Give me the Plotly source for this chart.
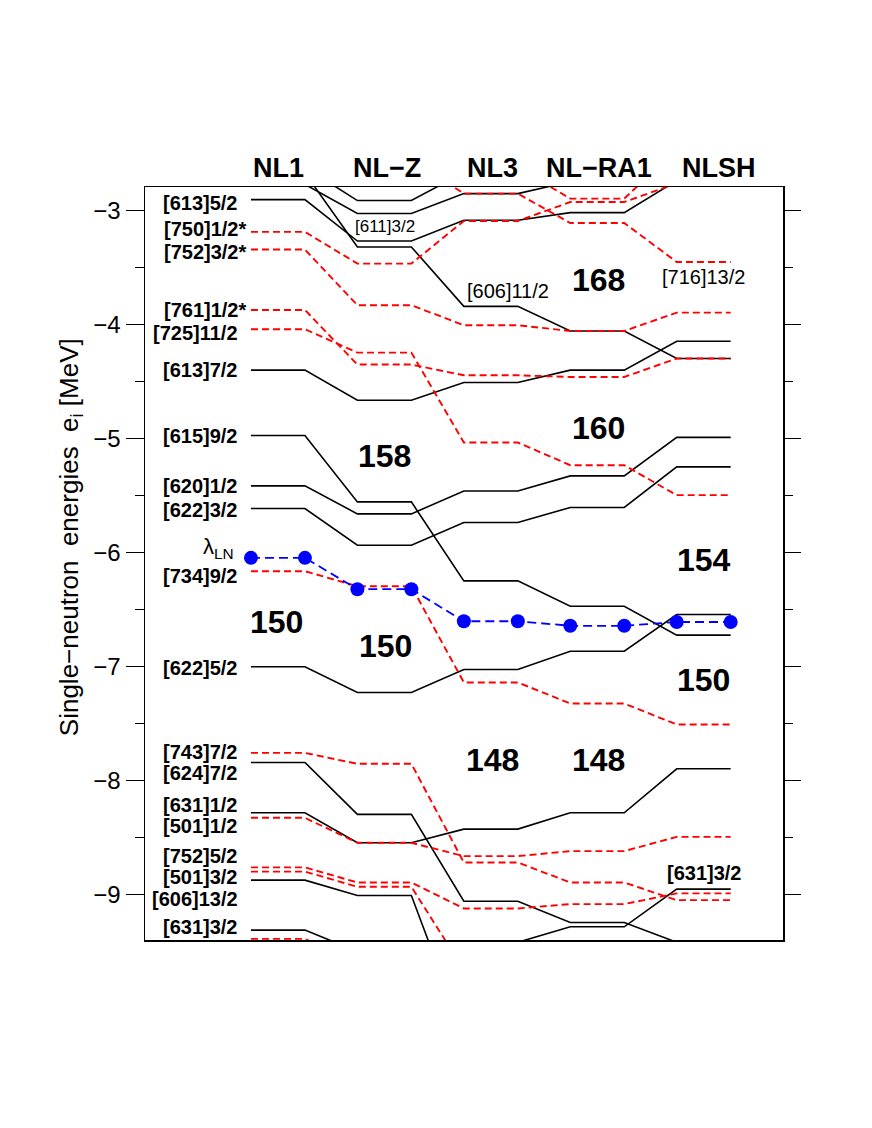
import plotly.graph_objects as go

# ---------------- data ----------------
models = ["NL1", "NL\u2212Z", "NL3", "NL\u2212RA1", "NLSH"]

# positive-parity levels (black solid), energies in MeV for NL1, NL-Z, NL3, NL-RA1, NLSH
black_top1 = [-2.62, -2.912, -2.666, -2.50, -2.50]
black_top2 = [-2.77, -3.026, -2.851, -2.746, -2.60]
lvl_613_5 = [-2.904, -3.267, -3.085, -3.018, -2.737]
lvl_606_11 = [-2.671, -3.319, -3.840, -4.056, -4.298]
lvl_613_7 = [-4.400, -4.664, -4.509, -4.400, -4.146]
lvl_615_9 = [-4.974, -5.556, -6.249, -6.471, -6.725]
lvl_620_1 = [-5.415, -5.661, -5.460, -5.328, -4.990]
lvl_622_3 = [-5.614, -5.936, -5.737, -5.605, -5.249]
lvl_622_5 = [-7.003, -7.228, -7.026, -6.866, -6.544]
lvl_624_7 = [-7.842, -8.298, -9.060, -9.246, -9.420]
lvl_631_1 = [-8.284, -8.547, -8.427, -8.284, -7.898]
lvl_606_13 = [-8.875, -9.009, -10.24, -10.50, -10.50]
lvl_631_3 = [-9.313, -9.500, -9.420, -9.284, -8.954]

# negative-parity levels (red dashed)
red_716_13 = [-2.30, -2.55, -2.851, -3.109, -3.451]
red_top3 = [-2.40, -2.50, -2.62, -2.895, -2.46]
red_750_1 = [-3.187, -3.465, -3.091, -2.925, -2.76]
red_752_3 = [-3.342, -3.830, -4.006, -4.056, -3.895]
red_761_1 = [-3.872, -4.351, -4.445, -4.460, -4.298]
red_725_11 = [-4.041, -4.246, -5.035, -5.234, -5.497]
red_734_9 = [-6.164, -6.296, -7.140, -7.325, -7.509]
red_743_7 = [-7.758, -7.854, -8.720, -8.895, -9.050]
red_501_1 = [-8.328, -8.547, -8.664, -8.620, -8.495]
red_752_5 = [-8.763, -8.895, -9.123, -9.085, -8.991]
red_501_3 = [-8.800, -8.933, -9.660, -9.900, -9.900]
red_bottom = [-9.390, -9.600, -9.900, -9.900, -9.900]

# Fermi level lambda_LN
lambda_ln = [-6.047, -6.322, -6.603, -6.643, -6.610]

black_levels = [black_top1, black_top2, lvl_613_5, lvl_606_11, lvl_613_7, lvl_615_9,
                lvl_620_1, lvl_622_3, lvl_622_5, lvl_624_7, lvl_631_1, lvl_606_13, lvl_631_3]
red_levels = [red_716_13, red_top3, red_750_1, red_752_3, red_761_1, red_725_11, red_734_9,
              red_743_7, red_501_1, red_752_5, red_501_3, red_bottom]

# left-hand orbital labels and their vertical positions (MeV)
left_labels = ["[613]5/2", "[750]1/2*", "[752]3/2*", "[761]1/2*", "[725]11/2", "[613]7/2",
               "[615]9/2", "[620]1/2", "[622]3/2", "[734]9/2", "[622]5/2", "[743]7/2",
               "[624]7/2", "[631]1/2", "[501]1/2", "[752]5/2", "[501]3/2", "[606]13/2",
               "[631]3/2"]
left_label_y = [-2.932, -3.158, -3.366, -3.870, -4.074, -4.401, -4.977, -5.418, -5.623,
                -6.205, -7.009, -7.754, -7.933, -8.219, -8.398, -8.661, -8.851, -9.041,
                -9.287]

# shell-gap numbers: text, model position, energy
gap_text = ["158", "150", "150", "168", "160", "154", "150", "148", "148"]
gap_x = [1.005, -0.014, 1.014, 3.014, 3.014, 4.0, 4.0, 2.019, 3.014]
gap_y = [-5.155, -6.611, -6.822, -3.611, -4.910, -6.068, -7.121, -7.822, -7.822]

# other orbital labels in the plot body
inner_text = ["[611]3/2", "[606]11/2", "[716]13/2", "[631]3/2"]
inner_x = [1.005, 2.160, 4.0, 4.011]
inner_y = [-3.138, -3.705, -3.582, -8.816]
inner_size = [17, 20, 20, 20]
inner_bold = [False, False, False, True]

# ---------------- drawing ----------------
HW = 0.2535  # half width of a level segment (model units)
FONT = "Liberation Sans, Arial, Helvetica, sans-serif"


def seg_xy(vals):
    xs, ys = [], []
    for i, v in enumerate(vals):
        xs += [i - HW, i + HW]
        ys += [v, v]
    return xs, ys


fig = go.Figure()
for lv in black_levels:
    xs, ys = seg_xy(lv)
    fig.add_trace(go.Scatter(x=xs, y=ys, mode="lines", line=dict(color="black", width=1.6),
                             showlegend=False, hoverinfo="skip"))
for lv in red_levels:
    xs, ys = seg_xy(lv)
    fig.add_trace(go.Scatter(x=xs, y=ys, mode="lines",
                             line=dict(color="#ff0000", width=1.9, dash="7px,4px"),
                             showlegend=False, hoverinfo="skip"))
xs, ys = seg_xy(lambda_ln)
fig.add_trace(go.Scatter(x=xs, y=ys, mode="lines+markers", yaxis="y2",
                         line=dict(color="#0000ff", width=1.8, dash="9px,5px"),
                         marker=dict(color="#0000ff", size=14),
                         showlegend=False, hoverinfo="skip"))

ann = []
label_x = -HW - 0.1035
for t, y in zip(left_labels, left_label_y):
    x = label_x + (0.078 if t.endswith("*") else 0.0)
    ann.append(dict(x=x, y=y, xref="x", yref="y", text=t, showarrow=False,
                    xanchor="right", yanchor="middle",
                    font=dict(family=FONT, size=20, color="black", weight="bold")))
for t, x, y in zip(gap_text, gap_x, gap_y):
    ann.append(dict(x=x, y=y, xref="x", yref="y", text=t, showarrow=False,
                    xanchor="center", yanchor="middle",
                    font=dict(family=FONT, size=32, color="black", weight="bold")))
for t, x, y, s, b in zip(inner_text, inner_x, inner_y, inner_size, inner_bold):
    ann.append(dict(x=x, y=y, xref="x", yref="y", text=t, showarrow=False,
                    xanchor="center", yanchor="middle",
                    font=dict(family=FONT, size=s, color="black",
                              weight="bold" if b else "normal")))
header_x = [0.009, 1.023, 2.019, 3.014, 4.141]
for t, x in zip(models, header_x):
    ann.append(dict(x=x, y=1.0255, xref="x", yref="paper", text=t, showarrow=False,
                    xanchor="center", yanchor="middle",
                    font=dict(family=FONT, size=27, color="black", weight="bold")))
ann.append(dict(x=-0.394, y=-5.962, xref="x", yref="y", text="\u03bb<sub>LN</sub>",
                showarrow=False, xanchor="right", yanchor="middle",
                font=dict(family=FONT, size=22, color="black")))
ann.append(dict(x=-0.1175, y=0.535, xref="paper", yref="paper",
                text="Single\u2212neutron\u00a0\u00a0energies\u00a0\u00a0e<sub>i</sub> [MeV]",
                showarrow=False, textangle=-90, xanchor="center", yanchor="middle",
                font=dict(family=FONT, size=26, color="black")))

yr = [-9.40, -2.793]
fig.update_layout(
    width=872, height=1128,
    margin=dict(l=145, r=89, t=187, b=188),
    paper_bgcolor="white", plot_bgcolor="white",
    hovermode=False,
    annotations=ann,
    xaxis=dict(range=[-1.249, 4.745], showgrid=False, zeroline=False, showticklabels=False,
               ticks="", showline=True, mirror=True, linecolor="black", linewidth=1.5),
    yaxis=dict(range=yr, dtick=1, tick0=0, ticks="outside", ticklen=18, tickwidth=1.5,
               tickcolor="black", showgrid=False, zeroline=False, showline=True,
               mirror=True, linecolor="black", linewidth=1.5,
               tickfont=dict(family=FONT, size=24, color="black"),
               minor=dict(dtick=0.5, tick0=0, ticks="outside", ticklen=9, tickwidth=1.5,
                          tickcolor="black", showgrid=False)),
    yaxis2=dict(range=yr, matches="y", overlaying="y", side="right", dtick=1, tick0=0,
                ticks="outside", ticklen=17, tickwidth=1.5, tickcolor="black",
                showticklabels=False, showgrid=False, zeroline=False, showline=False,
                minor=dict(dtick=0.5, tick0=0, ticks="outside", ticklen=9, tickwidth=1.5,
                           tickcolor="black", showgrid=False)),
)

fig.write_html("out.html", config={"displayModeBar": False, "staticPlot": True},
               post_script="document.body.style.margin='0';document.body.style.padding='0';")
